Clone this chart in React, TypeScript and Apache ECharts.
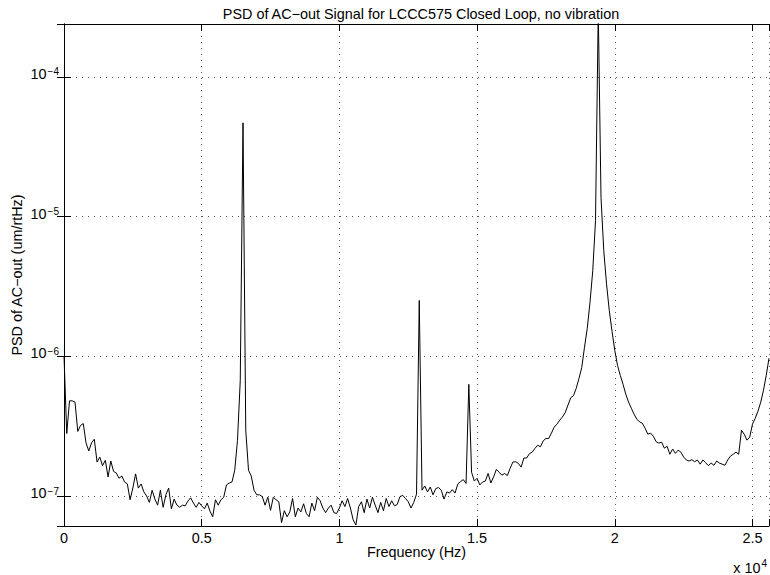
import React, { useEffect, useRef } from 'react';
import * as echarts from 'echarts';

// PSD values in units of 1e-7 um/rtHz, one every 100 Hz from 0 to 25600 Hz
const FREQ_STEP_HZ = 100;
const PSD_UNIT = 1e-7;
const psd = [
  10, 2.8, 4.8, 4.8, 4.7, 2.9, 3.2, 3.3, 2.4, 2.1,
  2.4, 2.55, 1.75, 1.9, 1.65, 1.8, 1.37, 1.78, 1.5, 1.46,
  1.34, 1.39, 1.26, 1.22, 0.94, 1.14, 1.44, 1.14, 1.22, 1.07,
  1.0, 0.9, 1.1, 0.95, 0.86, 1.1, 0.83, 1.02, 1.14, 0.81,
  0.95, 0.86, 0.83, 0.86, 0.85, 0.92, 0.97, 0.89, 0.83, 0.9,
  0.85, 0.81, 0.89, 0.78, 0.71, 0.94, 0.86, 0.94, 0.98, 1.2,
  1.24, 1.26, 1.53, 2.5, 6.7, 469, 2.96, 1.53, 1.39, 1.1,
  1.02, 1.02, 0.99, 0.86, 0.98, 0.79, 0.98, 0.94, 0.91, 0.645,
  0.785, 0.71, 0.77, 0.96, 0.71, 0.82, 0.77, 0.88, 0.75, 0.71,
  0.89, 0.785, 0.98, 0.925, 0.82, 0.76, 0.82, 0.86, 0.76, 0.75,
  0.82, 0.925, 0.84, 0.96, 0.82, 0.675, 0.62, 0.84, 0.91, 0.76,
  0.95, 0.82, 0.98, 0.86, 0.76, 0.9, 0.785, 0.96, 0.84, 0.925,
  0.85, 0.87, 0.99, 1.01, 0.96, 0.91, 0.82, 0.9, 1.03, 25.1,
  1.1, 1.18, 1.07, 1.16, 1.02, 1.13, 1.15, 1.1, 0.95, 1.07,
  1.05, 1.11, 1.05, 1.22, 1.27, 1.31, 1.23, 6.3, 1.48, 1.28,
  1.34, 1.2, 1.26, 1.28, 1.45, 1.24, 1.37, 1.55, 1.48, 1.41,
  1.45, 1.4, 1.58, 1.75, 1.76, 1.71, 1.61, 1.87, 1.87, 2.01,
  2.06, 2.19, 2.31, 2.25, 2.48, 2.58, 2.58, 2.82, 3.11, 3.27,
  3.49, 3.68, 3.95, 4.47, 5.05, 5.22, 5.9, 6.95, 8.3, 11.6,
  15.8, 24.3, 41, 93.5, 3000, 137, 57, 33, 21.3, 15.1,
  11.0, 8.6, 7.3, 6.3, 5.35, 4.7, 4.25, 3.85, 3.55, 3.39,
  3.32, 3.06, 2.77, 2.82, 2.68, 2.45, 2.39, 2.43, 2.2, 2.27,
  1.99, 2.17, 2.02, 2.13, 2.06, 1.9, 1.81, 1.78, 1.82, 1.76,
  1.81, 1.69, 1.81, 1.73, 1.65, 1.72, 1.66, 1.78, 1.72, 1.69,
  1.66, 1.81, 1.93, 1.99, 2.06, 1.99, 2.96, 2.77, 2.51, 2.64,
  3.27, 3.6, 4.05, 4.7, 5.72, 7.3, 9.7,
];
const freqs = psd.map((_, i) => i * FREQ_STEP_HZ);

const X_MIN = 0;
const X_MAX = 25600;
const X_INTERVAL = 5000;
const X_LABEL_SCALE = 1e4;
const Y_MIN = 6.1e-8;
const Y_MAX = 2.39e-4;

const TITLE = 'PSD of AC\u2212out Signal for LCCC575 Closed Loop, no vibration';
const X_NAME = 'Frequency (Hz)';
const Y_NAME = 'PSD of AC\u2212out (um/rtHz)';

const FONT = '"Liberation Sans", Arial, Helvetica, sans-serif';
const FS = 14.4;
const SUP = 10;

export default function App() {
  const ref = useRef<HTMLDivElement>(null);

  useEffect(() => {
    document.body.style.margin = '0';
    if (!ref.current) return;
    const chart = echarts.init(ref.current, undefined, { renderer: 'svg' });

    const gridLine = { show: true, lineStyle: { color: '#555', width: 1, type: [1, 5] as any } };
    const tick = { show: true, inside: true, length: 7, lineStyle: { color: '#000', width: 1 } };
    const axisLine = { show: true, lineStyle: { color: '#000', width: 1 } };

    const xFormatter = (v: number) =>
      Math.abs(v % X_INTERVAL) < 1e-6 ? String(v / X_LABEL_SCALE) : '';
    const yFormatter = (v: number) => {
      const e = Math.log10(v);
      const r = Math.round(e);
      if (Math.abs(e - r) > 1e-6) return '';
      const s = r < 0 ? '\u2212' + String(-r) : String(r);
      return `{b|10}{s|${s}}`;
    };

    const option: any = {
      animation: false,
      backgroundColor: '#fff',
      title: {
        text: TITLE,
        left: 416,
        top: 2,
        textAlign: 'center',
        textStyle: { fontFamily: FONT, fontSize: FS, fontWeight: 'normal', color: '#000' },
      },
      grid: { left: 64, top: 24, right: 1, bottom: 49, containLabel: false, outerBoundsMode: 'none' },
      xAxis: [
        {
          type: 'value',
          position: 'bottom',
          min: X_MIN,
          max: X_MAX,
          interval: X_INTERVAL,
          axisLine,
          axisTick: tick,
          splitLine: gridLine,
          axisLabel: {
            formatter: xFormatter,
            color: '#000',
            fontFamily: FONT,
            fontSize: FS,
            margin: 5,
          },
          name: X_NAME,
          nameLocation: 'middle',
          nameGap: 19,
          nameMoveOverlap: false,
          nameTextStyle: { fontFamily: FONT, fontSize: FS, color: '#000' },
        },
        {
          type: 'value',
          position: 'top',
          min: X_MIN,
          max: X_MAX,
          interval: X_INTERVAL,
          axisLine,
          axisTick: tick,
          splitLine: { show: false },
          axisLabel: { show: false },
        },
      ],
      yAxis: [
        {
          type: 'log',
          logBase: 10,
          position: 'left',
          min: Y_MIN,
          max: Y_MAX,
          axisLine,
          axisTick: tick,
          minorTick: { show: false },
          splitLine: gridLine,
          axisLabel: {
            formatter: yFormatter,
            color: '#000',
            margin: 5,
            padding: [0, 0, 6, 0],
            rich: {
              b: { fontFamily: FONT, fontSize: FS, lineHeight: 14, verticalAlign: 'bottom', color: '#000' },
              s: {
                fontFamily: FONT,
                fontSize: SUP,
                lineHeight: 10,
                padding: [0, 0, 10, 1],
                verticalAlign: 'top',
                color: '#000',
              },
            },
          },
          name: Y_NAME,
          nameLocation: 'middle',
          nameGap: 40,
          nameMoveOverlap: false,
          nameTextStyle: { fontFamily: FONT, fontSize: FS, color: '#000' },
        },
        {
          type: 'log',
          logBase: 10,
          position: 'right',
          min: Y_MIN,
          max: Y_MAX,
          axisLine,
          axisTick: tick,
          splitLine: { show: false },
          axisLabel: { show: false },
        },
      ],
      graphic: [
        {
          type: 'text',
          right: 3,
          top: 558,
          style: {
            text: '{a|x 10}{e|4}',
            rich: {
              a: { fontFamily: FONT, fontSize: FS, lineHeight: 17, verticalAlign: 'bottom', fill: '#000' },
              e: { fontFamily: FONT, fontSize: SUP, lineHeight: 10, padding: [0, 0, 8, 1], verticalAlign: 'top', fill: '#000' },
            },
          },
        },
      ],
      series: [
        {
          type: 'line',
          xAxisIndex: 0,
          yAxisIndex: 0,
          data: freqs.map((f, i) => [f, psd[i] * PSD_UNIT]),
          showSymbol: false,
          symbol: 'none',
          lineStyle: { color: '#000', width: 1 },
          clip: true,
          z: 5,
        },
      ],
    };

    chart.setOption(option);
    return () => chart.dispose();
  }, []);

  return <div ref={ref} style={{ width: 770, height: 575 }} />;
}
